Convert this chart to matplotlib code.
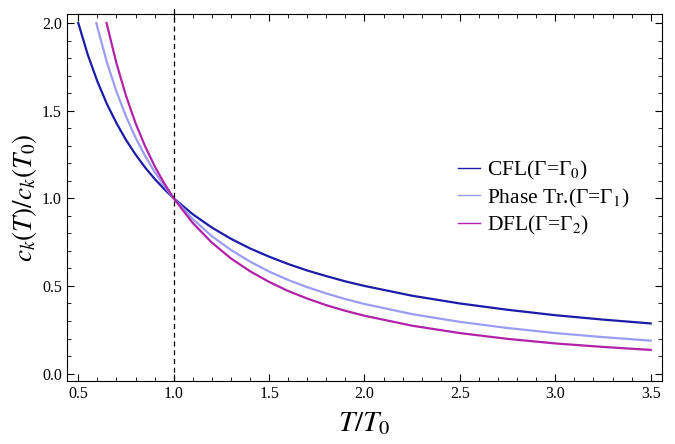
import numpy as np
import matplotlib
matplotlib.use("Agg")
import matplotlib.pyplot as plt
from matplotlib.ticker import MultipleLocator, FormatStrFormatter

plt.rcParams["font.family"] = ["Liberation Serif", "DejaVu Serif"]
plt.rcParams["mathtext.fontset"] = "stix"

# values
t_cfl = [0.5, 0.55, 0.6, 0.65, 0.7, 0.75, 0.8, 0.85, 0.9, 0.95, 1.0,
         1.1, 1.2, 1.3, 1.4, 1.5, 1.6, 1.7, 1.8, 1.9, 2.0,
         2.25, 2.5, 2.75, 3.0, 3.25, 3.5]
c_cfl = [2.0, 1.818, 1.667, 1.538, 1.429, 1.333, 1.25, 1.176, 1.111, 1.053, 1.0,
         0.909, 0.833, 0.769, 0.714, 0.667, 0.625, 0.588, 0.556, 0.526, 0.5,
         0.444, 0.4, 0.364, 0.333, 0.308, 0.286]

t_pt = [0.595, 0.6, 0.65, 0.7, 0.75, 0.8, 0.85, 0.9, 0.95, 1.0,
        1.1, 1.2, 1.3, 1.4, 1.5, 1.6, 1.7, 1.8, 1.9, 2.0,
        2.25, 2.5, 2.75, 3.0, 3.25, 3.5]
c_pt = [2.0, 1.976, 1.776, 1.609, 1.468, 1.346, 1.242, 1.151, 1.071, 1.0,
        0.881, 0.784, 0.705, 0.639, 0.582, 0.534, 0.493, 0.457, 0.425, 0.397,
        0.339, 0.295, 0.260, 0.231, 0.208, 0.188]

t_dfl = [0.648, 0.65, 0.7, 0.75, 0.8, 0.85, 0.9, 0.95, 1.0,
         1.1, 1.2, 1.3, 1.4, 1.5, 1.6, 1.7, 1.8, 1.9, 2.0,
         2.25, 2.5, 2.75, 3.0, 3.25, 3.5]
c_dfl = [2.0, 1.992, 1.770, 1.585, 1.429, 1.297, 1.184, 1.086, 1.0,
         0.859, 0.747, 0.657, 0.584, 0.523, 0.471, 0.428, 0.390, 0.358, 0.330,
         0.273, 0.231, 0.198, 0.172, 0.152, 0.135]

labels = [r"CFL(Γ=Γ$_0$)", r"Phase Tr.(Γ=Γ$_1$)", r"DFL(Γ=Γ$_2$)"]
colors = ["#1c1ca8", "#9c9cf2", "#b222a8"]

fig = plt.figure(figsize=(6.75, 4.44), dpi=100)
ax = fig.add_axes([0.099, 0.142, 0.882, 0.826])

for t, c, lab, col in zip([t_cfl, t_pt, t_dfl], [c_cfl, c_pt, c_dfl], labels, colors):
    ax.plot(t, c, color=col, lw=1.6, label=lab)

ax.plot([1.0, 1.0], [-0.042, 2.1], color="black", lw=0.9, ls=(0, (4, 3)),
        clip_on=False)

ax.set_xlim(0.44, 3.56)
ax.set_ylim(-0.042, 2.05)
ax.xaxis.set_major_locator(MultipleLocator(0.5))
ax.xaxis.set_minor_locator(MultipleLocator(0.1))
ax.yaxis.set_major_locator(MultipleLocator(0.5))
ax.yaxis.set_minor_locator(MultipleLocator(0.1))
ax.tick_params(which="both", direction="in", top=True, right=True, labelsize=11.5)
ax.tick_params(which="major", length=5, width=0.8)
ax.tick_params(which="minor", length=3, width=0.6)
ax.xaxis.set_major_formatter(FormatStrFormatter("%.1f"))
ax.yaxis.set_major_formatter(FormatStrFormatter("%.1f"))

ax.set_xlabel(r"$T/T_{\mathit{0}}$", fontsize=21, labelpad=6)
ax.set_ylabel(r"$c_k(T)/c_k(T_{\mathit{0}})$", fontsize=19.5, labelpad=2)

leg = ax.legend(loc="center left", bbox_to_anchor=(458 / 675, 1 - 198 / 444),
                bbox_transform=fig.transFigure, frameon=False, borderpad=0,
                borderaxespad=0, fontsize=15.5, handlelength=1.0,
                handletextpad=0.35, labelspacing=0.22)
for line in leg.get_lines():
    line.set_linewidth(1.0)

fig.savefig("out.png", dpi=100)
